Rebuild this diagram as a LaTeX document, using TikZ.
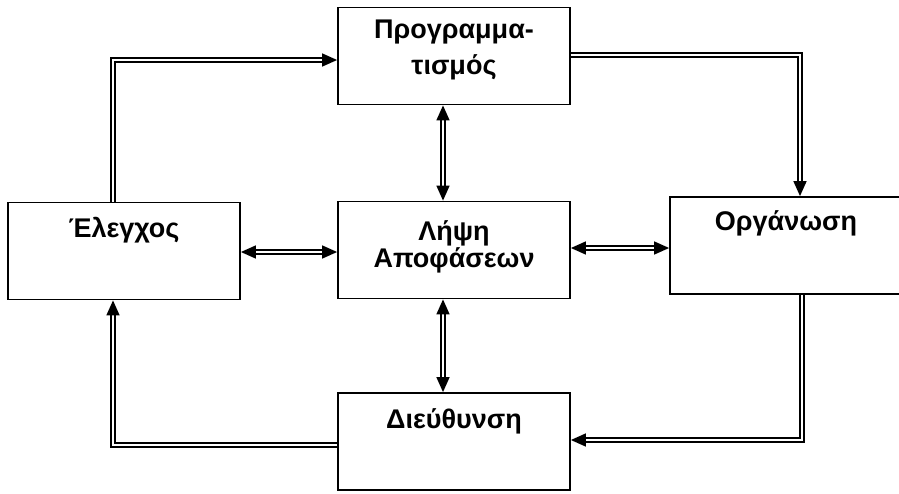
\documentclass[tikz,border=0pt]{standalone}
\usepackage{fontspec}
\setmainfont{Liberation Sans}
\usepackage{tikz}
\usetikzlibrary{arrows.meta}

\begin{document}
\begin{tikzpicture}[x=1pt,y=-1pt]
	\tikzstyle{box}=[draw=black,line width=1.8pt,minimum width=232pt,minimum height=97pt,inner sep=0pt,align=center,font=\bfseries\fontsize{27}{27}\selectfont]
	\tikzstyle{toptext}=[text height=19pt,text depth=#1]
	\tikzstyle{flow}=[draw=black,double=white,line width=1.5pt,double distance=2.6pt,-{Triangle[length=15pt,width=13pt]}]
	\tikzstyle{biflow}=[flow,{Triangle[length=15pt,width=13pt]}-{Triangle[length=15pt,width=13pt]}]
	\useasboundingbox (0,0) rectangle (899,493);
	% the five boxes
	\node[box,text height=55pt,text depth=19pt,font=\bfseries\fontsize{27}{36}\selectfont](prog) at (454,56) {Προγραμμα-\\τισμός};
	\node[box,toptext=47pt](elegxos) at (124,251) {Έλεγχος};
	\node[box,text height=46pt,text depth=12pt](lipsi) at (454,250) {Λήψη\\Αποφάσεων};
	\node[box,toptext=50pt](org) at (786,245.5) {Οργάνωση};
	\node[box,toptext=46pt](dieu) at (454,441.5) {Διεύθυνση};
	% outer loop
	\draw[flow]([xshift=-11pt]elegxos.north) |- ([yshift=-4pt]prog.west);
	\draw[flow]([yshift=1pt]prog.east) -| ([xshift=14pt]org.north);
	\draw[flow]([xshift=16pt]org.south) |- ([yshift=1.5pt]dieu.east);
	\draw[flow]([yshift=-3.5pt]dieu.west) -| ([xshift=-11pt]elegxos.south);
	% links to the centre
	\draw[biflow]([xshift=-11pt]prog.south) -- ([xshift=-11pt]lipsi.north);
	\draw[biflow]([xshift=-11pt]lipsi.south) -- ([xshift=-11pt]dieu.north);
	\draw[biflow](elegxos.east |- 0,252) -- (lipsi.west |- 0,252);
	\draw[biflow](lipsi.east |- 0,248) -- (org.west |- 0,248);
\end{tikzpicture}
\end{document}
